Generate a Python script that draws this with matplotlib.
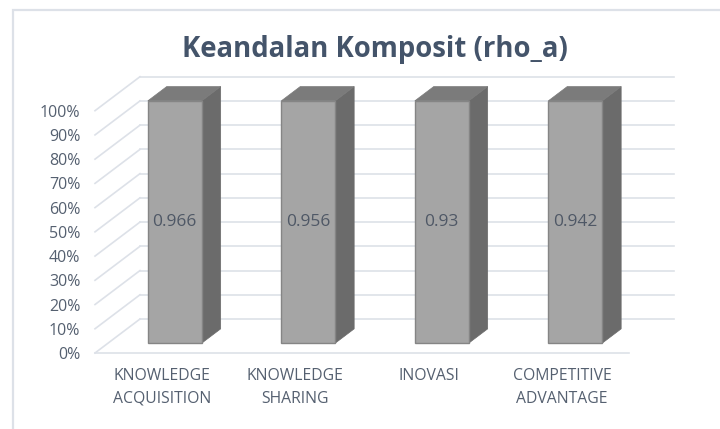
import matplotlib.pyplot as plt
from matplotlib.patches import Polygon, Rectangle
import numpy as np

# données
categories = ["KNOWLEDGE\nACQUISITION", "KNOWLEDGE\nSHARING", "INOVASI", "COMPETITIVE\nADVANTAGE"]
rho_a = np.array([0.966, 0.956, 0.93, 0.942])
yticks = np.arange(0, 1.01, 0.1)
ylabels = ["%d%%" % round(t*100) for t in yticks]

# graphique 100% empilé : une seule série -> chaque colonne vaut 100%
parts = rho_a / rho_a

# projection oblique (effet 3D type Excel)
DX, DY = 0.337, 0.1403     # décalage pour toute la profondeur
d0, bd = 0.29, 0.42        # position et profondeur des colonnes
hw = 0.202                 # demi-largeur des colonnes

fig = plt.figure(figsize=(7.2, 4.29), dpi=100)
ax = fig.add_axes([95/720, (429-353)/429, 534/720, 242.3/429])
ax.set_xlim(-0.5, 3.5)
ax.set_ylim(0, 1)
ax.patch.set_alpha(0)
for s in ax.spines.values():
    s.set_visible(False)

gc = '#dde1e8'
# murs : quadrillage
for t in yticks:
    ax.plot([-0.5, -0.5+DX], [t, t+DY], color=gc, lw=1.2, clip_on=False, zorder=1)
    ax.plot([-0.5+DX, 3.5+DX], [t+DY, t+DY], color=gc, lw=1.2, clip_on=False, zorder=1)
# bord avant du sol
ax.plot([-0.5, 3.5], [0, 0], color=gc, lw=1.2, clip_on=False, zorder=1)

xs = np.arange(len(categories))
for i, (h, v) in enumerate(zip(parts, rho_a)):
    xl = i - hw + d0*DX
    xr = i + hw + d0*DX
    b = d0*DY
    ax.bar(i + d0*DX, h, width=2*hw, bottom=b, color='#a5a5a5',
           edgecolor='#858585', lw=1, zorder=3, clip_on=False)
    side = Polygon([(xr, b), (xr+bd*DX, b+bd*DY), (xr+bd*DX, b+h+bd*DY), (xr, b+h)],
                   closed=True, fc='#6b6b6b', ec='#6b6b6b', lw=0.5, zorder=2, clip_on=False)
    top = Polygon([(xl, b+h), (xr, b+h), (xr+bd*DX, b+h+bd*DY), (xl+bd*DX, b+h+bd*DY)],
                  closed=True, fc='#7b7b7b', ec='#7b7b7b', lw=0.5, zorder=2, clip_on=False)
    ax.add_patch(side)
    ax.add_patch(top)
    ax.text(i + d0*DX, b + h/2, "%g" % v, ha='center', va='center',
            fontsize=12.5, color='#4f5866', family='Open Sans', zorder=4)

ax.set_yticks(yticks)
ax.set_yticklabels(ylabels, fontsize=11.5, color='#556070', family='Open Sans')
ax.set_xticks(xs)
ax.set_xticklabels(categories, fontsize=11.3, color='#556070', family='Open Sans',
                   linespacing=1.55)
ax.tick_params(axis='y', length=0, pad=10.5)
ax.tick_params(axis='x', length=0, pad=11)

fig.text(375/720, 1-49/429, "Keandalan Komposit (rho_a)", ha='center', va='center',
         fontsize=19.8, fontweight='bold', color='#44546a', family='Open Sans')

# cadre du graphique
fig.patches.append(Rectangle((12.5/720, -0.05), 1.1, 1.05-9.5/429, transform=fig.transFigure,
                             fill=False, ec='#dde1e8', lw=1.6))

fig.savefig("out.png", dpi=100)
